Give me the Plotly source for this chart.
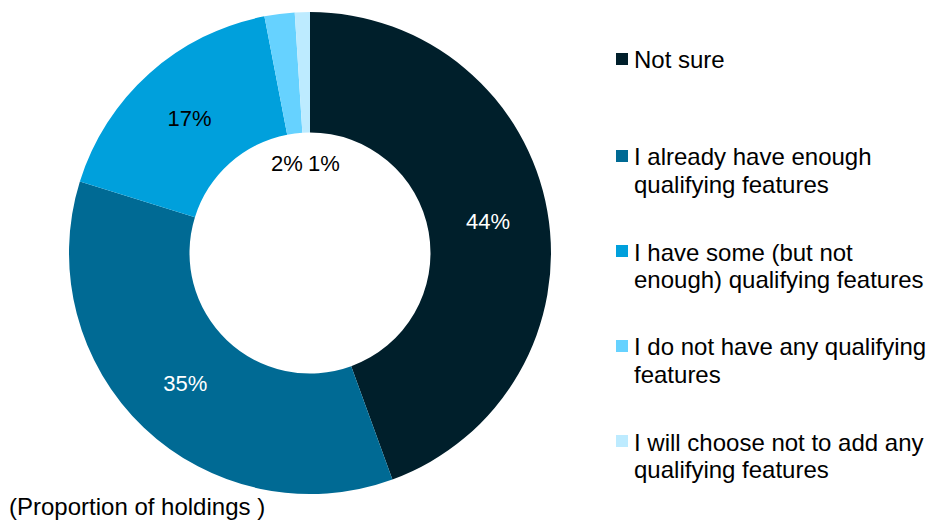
import plotly.graph_objects as go

# Survey responses and their share of holdings (%)
labels = [
    "Not sure",
    "I already have enough<br>qualifying features",
    "I have some (but not<br>enough) qualifying features",
    "I do not have any qualifying<br>features",
    "I will choose not to add any<br>qualifying features",
]
shares = [44, 35, 17, 2, 1]
colors = ["#001F2B", "#006A94", "#00A0DC", "#66D2FF", "#BDEBFF"]
text_colors = ["#FFFFFF", "#FFFFFF", "#000000", "#000000", "#000000"]

W, H = 928, 521
FONT = "Liberation Sans, Arial, sans-serif"
fig = go.Figure()

fig.add_trace(go.Pie(
    values=shares,
    labels=[l.replace("<br>", " ") for l in labels],
    hole=0.5,
    sort=False,
    direction="clockwise",
    rotation=0,
    marker=dict(colors=colors, line=dict(width=0)),
    texttemplate="%{value}%",
    textposition=["inside", "inside", "inside", "none", "none"],
    insidetextorientation="horizontal",
    textfont=dict(family=FONT, size=22, color=text_colors),
    showlegend=False,
    hoverinfo="label+value",
    domain=dict(x=[69 / W, 551 / W], y=[(H - 494) / H, (H - 12) / H]),
))

# Small slices are labelled just inside the hole
small_labels = [(3, 287, 163), (4, 324, 163)]
for idx, px, py in small_labels:
    fig.add_annotation(
        x=px / W, y=1 - py / H, xref="paper", yref="paper",
        text=f"{shares[idx]}%", showarrow=False,
        font=dict(family=FONT, size=22, color="#000000"),
        xanchor="center", yanchor="middle",
    )

# Hand-placed legend: one annotation per text line for tight line spacing
legend_first_line = [60, 157, 252, 347, 442]
line_gap = 27
for i, (lab, col) in enumerate(zip(labels, colors)):
    yc = legend_first_line[i]
    fig.add_shape(
        type="rect", xref="paper", yref="paper",
        x0=616 / W, x1=628 / W, y0=1 - (yc + 5) / H, y1=1 - (yc - 7) / H,
        fillcolor=col, line=dict(width=0),
    )
    for j, line in enumerate(lab.split("<br>")):
        fig.add_annotation(
            x=632 / W, y=1 - (yc + j * line_gap) / H, xref="paper", yref="paper",
            text=line, showarrow=False, align="left",
            xanchor="left", yanchor="middle",
            font=dict(family=FONT, size=24, color="#000000"),
        )

fig.add_annotation(
    x=7 / W, y=1 - 506 / H, xref="paper", yref="paper",
    text="(Proportion of holdings )", showarrow=False,
    xanchor="left", yanchor="middle",
    font=dict(family=FONT, size=24, color="#000000"),
)

fig.update_layout(
    width=W, height=H,
    margin=dict(l=0, r=0, t=0, b=0),
    paper_bgcolor="#FFFFFF",
    plot_bgcolor="#FFFFFF",
)

fig.write_html("out.html")
